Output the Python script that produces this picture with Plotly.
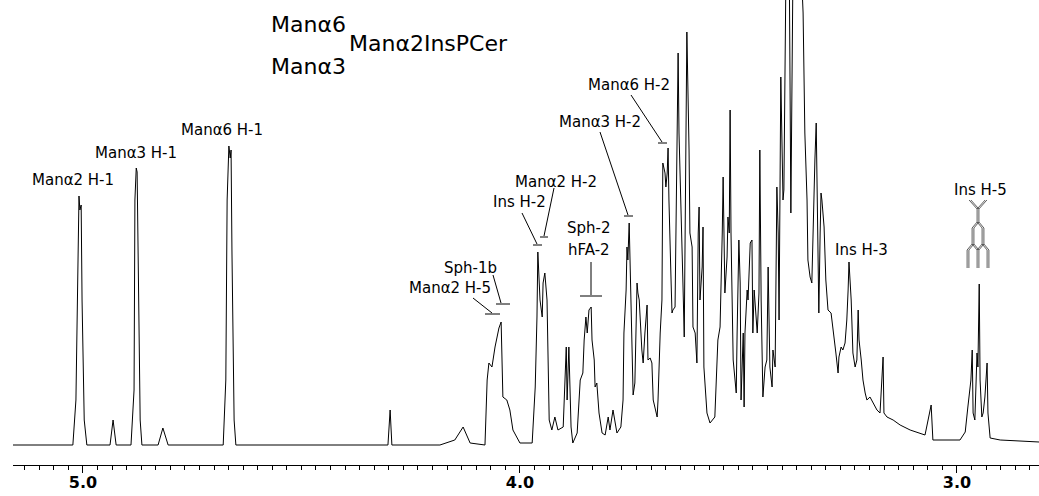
import numpy as np
import plotly.graph_objects as go

# ---- spectrum vertices (chemical shift in ppm, intensity in a.u.) ----
ppm = [5.160, 5.023, 5.016, 5.011, 5.009, 5.007, 5.004, 5.002, 4.997, 4.991,
       4.938, 4.931, 4.924,
       4.890, 4.883, 4.881, 4.878, 4.876, 4.874, 4.869, 4.865,
       4.828, 4.817, 4.805,
       4.679, 4.673, 4.670, 4.668, 4.666, 4.663, 4.661, 4.659, 4.654, 4.650,
       4.302, 4.297, 4.293,
       4.183, 4.149, 4.130, 4.114, 4.080,
       4.075, 4.071, 4.064, 4.057, 4.052, 4.048, 4.043, 4.041, 4.039, 4.030, 4.023, 4.016, 4.000,
       3.972, 3.965, 3.961, 3.959, 3.954, 3.949, 3.947, 3.943, 3.938, 3.936, 3.933, 3.927, 3.920,
       3.913, 3.901, 3.894, 3.892, 3.888, 3.883, 3.879, 3.869, 3.862, 3.856, 3.853, 3.849, 3.846,
       3.842, 3.837, 3.835, 3.830, 3.828, 3.824, 3.819, 3.812, 3.805, 3.798, 3.794, 3.787, 3.778,
       3.769, 3.764, 3.762, 3.757, 3.755, 3.753, 3.750, 3.748, 3.746, 3.743, 3.741, 3.737, 3.732,
       3.730, 3.727, 3.721, 3.718, 3.714, 3.709, 3.707, 3.702, 3.698, 3.695, 3.686, 3.684, 3.679,
       3.675, 3.673, 3.668, 3.666, 3.663, 3.661, 3.659, 3.654, 3.652, 3.650, 3.645, 3.643, 3.640,
       3.638, 3.636, 3.631, 3.627, 3.624, 3.622, 3.618, 3.613, 3.611, 3.606, 3.604, 3.599, 3.595,
       3.592, 3.590, 3.588, 3.583, 3.581, 3.579, 3.576, 3.572, 3.565, 3.554, 3.547, 3.542, 3.537,
       3.535, 3.531, 3.526, 3.524, 3.521, 3.519, 3.517, 3.512, 3.505, 3.503, 3.499, 3.496, 3.494,
       3.489, 3.487, 3.485, 3.480, 3.478, 3.473, 3.469, 3.467, 3.464, 3.460, 3.457, 3.453, 3.451,
       3.448, 3.444, 3.439, 3.435, 3.432, 3.428, 3.423, 3.421, 3.416, 3.414, 3.412, 3.409, 3.407,
       3.403, 3.400, 3.398, 3.396, 3.391, 3.384, 3.380, 3.375, 3.366, 3.357, 3.352, 3.348, 3.343,
       3.341, 3.336, 3.332, 3.329, 3.325, 3.322, 3.320, 3.318, 3.316, 3.313, 3.311, 3.309, 3.304,
       3.300, 3.295, 3.288, 3.284, 3.281, 3.277, 3.272, 3.270, 3.265, 3.261, 3.256, 3.252, 3.249,
       3.247, 3.242, 3.240, 3.238, 3.233, 3.229, 3.226, 3.224, 3.219, 3.215, 3.210, 3.206, 3.199,
       3.192, 3.183, 3.176, 3.169, 3.167, 3.160, 3.146, 3.130, 3.107, 3.073, 3.059, 3.055, 2.993,
       2.981, 2.975, 2.968, 2.965, 2.963, 2.959, 2.954, 2.952, 2.949, 2.947, 2.943, 2.940, 2.936,
       2.931, 2.929, 2.924, 2.901, 2.812]

intensity = [0, 0, 45, 215, 249, 235, 240, 145, 25, 0,
             0, 25, 0,
             0, 55, 245, 277, 273, 185, 25, 0,
             0, 17, 0,
             0, 65, 245, 285, 299, 287, 295, 195, 25, 0,
             0, 35, 0,
             0, 5, 18, 2, 0,
             65, 82, 78, 98, 108, 117, 123, 88, 48, 45, 35, 15, 2,
             2, 58, 128, 193, 145, 128, 162, 172, 145, 78, 25, 15, 28,
             15, 18, 98, 45, 98, 18, 2, 12, 65, 72, 105, 128, 112,
             135, 138, 105, 85, 58, 62, 32, 12, 10, 28, 15, 35, 12,
             18, 45, 112, 155, 198, 185, 222, 178, 145, 78, 50, 62, 162,
             152, 145, 95, 82, 112, 140, 85, 87, 82, 45, 28, 45, 112,
             145, 282, 272, 258, 272, 297, 245, 162, 132, 135, 138, 212, 368,
             392, 312, 212, 162, 108, 245, 413, 295, 212, 198, 118, 112, 82,
             212, 238, 145, 178, 218, 78, 58, 32, 22, 28, 105, 118, 212,
             268, 152, 188, 228, 212, 335, 212, 85, 52, 112, 205, 162, 45,
             112, 38, 112, 155, 145, 202, 205, 112, 155, 135, 112, 152, 295,
             145, 48, 78, 85, 178, 78, 58, 95, 78, 212, 258, 212, 125,
             368, 312, 245, 255, 485, 505, 232, 485, 525, 485, 432, 312, 245,
             185, 168, 162, 228, 285, 322, 245, 178, 132, 212, 252, 245, 218,
             165, 135, 132, 115, 108, 92, 72, 88, 98, 95, 102, 125, 155,
             183, 145, 115, 92, 78, 85, 135, 105, 85, 65, 52, 45, 48,
             42, 35, 32, 88, 32, 28, 25, 20, 15, 10, 40, 5, 5,
             13, 38, 65, 95, 32, 25, 92, 78, 161, 65, 28, 32, 48,
             82, 32, 7, 5, 3]

# ---- axis ticks ----
major_ticks = [5.0, 4.8, 4.6, 4.4, 4.2, 4.0, 3.8, 3.6, 3.4, 3.2, 3.0]
major_labels = ["5.0", "", "", "", "", "4.0", "", "", "", "", "3.0"]

# ---- figure geometry (pixels) ----
W, H = 1039, 496
ML, MR, MT, MB = 13, 0, 0, 31
PW, PH = W - ML - MR, H - MT - MB


def fx(px):
    return (px - ML) / PW


def fy(py):
    return (MT + PH - py) / PH


fig = go.Figure()
fig.add_trace(go.Scatter(x=ppm, y=intensity, mode="lines",
                         line=dict(color="black", width=1), hoverinfo="skip",
                         showlegend=False))

minor_vals = [round(5.0 + k / 30.0, 4) for k in range(-65, 6)]
minor_vals = [v for v in minor_vals if 2.81 < v < 5.16]

fig.update_xaxes(range=[5.16, 2.8122], showgrid=False, zeroline=False,
                 showline=True, linecolor="black", linewidth=1,
                 tickmode="array", tickvals=major_ticks, ticktext=major_labels,
                 ticks="outside", ticklen=7, tickwidth=1, tickcolor="black",
                 ticklabelstandoff=-4,
                 tickfont=dict(family="DejaVu Sans", size=16, color="black", weight="bold"),
                 minor=dict(tickmode="array", tickvals=minor_vals, ticks="outside",
                            ticklen=4, tickwidth=1, tickcolor="black"))
fig.update_yaxes(range=[-20, 445], visible=False, showgrid=False, zeroline=False)

font_lbl = dict(family="DejaVu Sans", size=15, color="black")
font_big = dict(family="DejaVu Sans", size=22, color="black")

labels = [
    ("Manα2 H-1", 73, 180), ("Manα3 H-1", 136, 153), ("Manα6 H-1", 222, 130),
    ("Manα6 H-2", 629, 85), ("Manα3 H-2", 600, 122), ("Manα2 H-2", 556, 182),
    ("Ins H-2", 519, 202), ("Sph-2", 589, 228), ("hFA-2", 589, 250),
    ("Sph-1b", 470, 268), ("Manα2 H-5", 450, 288), ("Ins H-3", 861, 250),
    ("Ins H-5", 980, 190),
]
ann = []
for t, x, y in labels:
    ann.append(dict(text=t, x=fx(x), y=fy(y), xref="paper", yref="paper",
                    xanchor="center", yanchor="middle", showarrow=False, font=font_lbl))
ann.append(dict(text="Manα6", x=fx(308), y=fy(24), xref="paper", yref="paper",
                xanchor="center", yanchor="middle", showarrow=False, font=font_big))
ann.append(dict(text="Manα3", x=fx(308), y=fy(66), xref="paper", yref="paper",
                xanchor="center", yanchor="middle", showarrow=False, font=font_big))
ann.append(dict(text="Manα2InsPCer", x=fx(347), y=fy(44), xref="paper", yref="paper",
                xanchor="left", yanchor="middle", showarrow=False, font=font_big))

segs = [
    # Ins H-2
    (522, 213, 537, 244), (533, 245, 542, 245),
    # Man a2 H-2
    (554, 188, 544, 236), (540, 237, 548, 237),
    # Sph-2 / hFA-2
    (591, 262, 591, 295), (580, 296, 602, 296),
    # Sph-1b
    (493, 275, 501, 303), (496, 304, 510, 304),
    # Man a2 H-5
    (473, 298, 492, 313), (485, 314, 500, 314),
    # Man a6 H-2
    (631, 95, 662, 142), (658, 143, 667, 143),
    # Man a3 H-2
    (600, 132, 628, 215), (624, 216, 633, 216),
]
# Ins H-5 splitting tree (drawn with double strokes as in the original)
tree = [
    (970, 200, 978, 209), (986, 200, 978, 209), (978, 209, 978, 222),
    (978, 222, 973, 228), (978, 222, 983, 228),
    (973, 228, 973, 244), (983, 228, 983, 244),
    (973, 244, 968, 250), (973, 244, 978, 250), (983, 244, 978, 250), (983, 244, 988, 250),
    (968, 250, 968, 268), (978, 250, 978, 268), (988, 250, 988, 268),
]
shapes = []
for x0, y0, x1, y1 in segs:
    shapes.append(dict(type="line", xref="paper", yref="paper",
                       x0=fx(x0), y0=fy(y0), x1=fx(x1), y1=fy(y1),
                       line=dict(color="black", width=1)))
for x0, y0, x1, y1 in tree:
    for d in (-0.9, 0.9):
        shapes.append(dict(type="line", xref="paper", yref="paper",
                           x0=fx(x0 + d), y0=fy(y0), x1=fx(x1 + d), y1=fy(y1),
                           line=dict(color="#333333", width=0.8)))

fig.update_layout(width=W, height=H, margin=dict(l=ML, r=MR, t=MT, b=MB),
                  paper_bgcolor="white", plot_bgcolor="white",
                  annotations=ann, shapes=shapes, showlegend=False)

fig.write_html("out.html", config={"displayModeBar": False},
               post_script="document.body.style.margin='0';document.body.style.overflow='hidden';")
